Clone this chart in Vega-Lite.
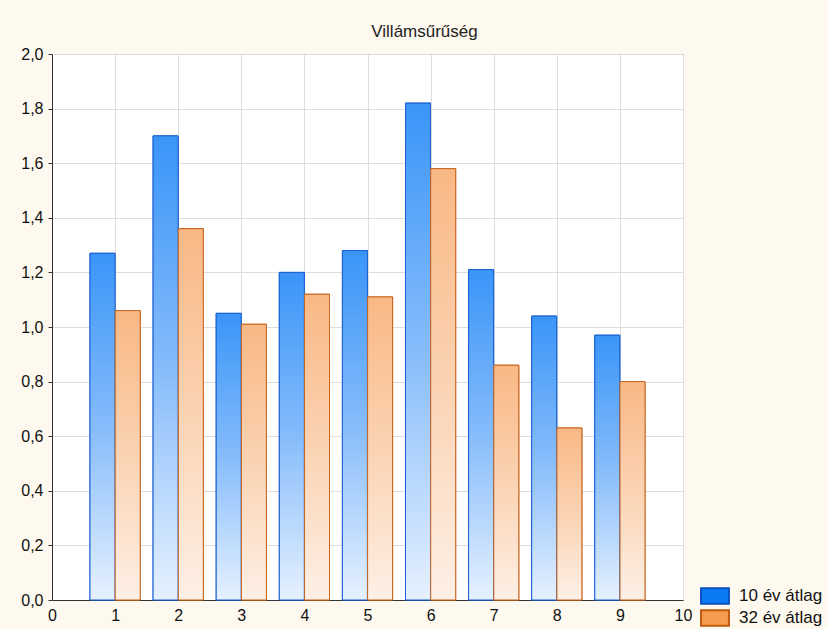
{
  "$schema": "https://vega.github.io/schema/vega-lite/v6.json",
  "width": 631,
  "height": 546,
  "autosize": {"type": "none"},
  "padding": {"left": 52, "top": 54, "right": 145, "bottom": 29},
  "background": "#FEF9EF",
  "view": {"fill": "white", "stroke": "#333333", "strokeWidth": 1},
  "title": {"text": "Villámsűrűség", "font": "Liberation Sans", "fontSize": 17, "fontWeight": "normal", "color": "#222222", "anchor": "middle", "dx": 57, "offset": 5},
  "config": {
    "font": "Liberation Sans",
    "legend": {
      "orient": "none",
      "legendX": 654,
      "legendY": 533,
      "padding": 0,
      "symbolType": "M-1.8,-1H1.8V1H-1.8Z",
      "symbolSize": 240,
      "symbolStrokeWidth": 2,
      "labelFontSize": 17,
      "labelFont": "Liberation Sans",
      "labelColor": "#111111",
      "labelOffset": 15,
      "rowPadding": -2
    }
  },
  "data": {
    "values": [
      {"n": 1, "series": "10 év átlag", "v": 1.27},
      {"n": 2, "series": "10 év átlag", "v": 1.70},
      {"n": 3, "series": "10 év átlag", "v": 1.05},
      {"n": 4, "series": "10 év átlag", "v": 1.20},
      {"n": 5, "series": "10 év átlag", "v": 1.28},
      {"n": 6, "series": "10 év átlag", "v": 1.82},
      {"n": 7, "series": "10 év átlag", "v": 1.21},
      {"n": 8, "series": "10 év átlag", "v": 1.04},
      {"n": 9, "series": "10 év átlag", "v": 0.97},
      {"n": 1, "series": "32 év átlag", "v": 1.06},
      {"n": 2, "series": "32 év átlag", "v": 1.36},
      {"n": 3, "series": "32 év átlag", "v": 1.01},
      {"n": 4, "series": "32 év átlag", "v": 1.12},
      {"n": 5, "series": "32 év átlag", "v": 1.11},
      {"n": 6, "series": "32 év átlag", "v": 1.58},
      {"n": 7, "series": "32 év átlag", "v": 0.86},
      {"n": 8, "series": "32 év átlag", "v": 0.63},
      {"n": 9, "series": "32 év átlag", "v": 0.80}
    ]
  },
  "encoding": {
    "x": {
      "field": "n",
      "type": "quantitative",
      "scale": {"domain": [0, 10], "nice": false, "zero": false, "padding": 0},
      "axis": {
        "title": null,
        "values": [0, 1, 2, 3, 4, 5, 6, 7, 8, 9, 10],
        "grid": true,
        "gridColor": "#DDDDDD",
        "ticks": false,
        "labelPadding": 7,
        "labelFontSize": 16,
        "labelColor": "#111111",
        "labelFlush": false,
        "domainColor": "#333333"
      }
    },
    "y": {
      "field": "v",
      "type": "quantitative",
      "scale": {"domain": [0, 2], "nice": false},
      "axis": {
        "title": null,
        "values": [0, 0.2, 0.4, 0.6, 0.8, 1.0, 1.2, 1.4, 1.6, 1.8, 2.0],
        "labelExpr": "replace(format(datum.value, '.1f'), '.', ',')",
        "grid": true,
        "gridColor": "#DDDDDD",
        "tickSize": 4,
        "tickColor": "#333333",
        "labelPadding": 5,
        "labelFontSize": 16,
        "labelColor": "#111111",
        "labelFlush": false,
        "domainColor": "#333333"
      }
    }
  },
  "layer": [
    {
      "transform": [{"filter": "datum.series === '10 év átlag'"}],
      "mark": {"type": "bar", "width": 25, "xOffset": -12.6, "strokeWidth": 1},
      "encoding": {
        "fill": {"field": "series", "type": "nominal", "scale": {"domain": ["10 év átlag", "32 év átlag"], "range": ["#0B7BF2", "#F59C4F"]}, "legend": {"title": null}},
        "stroke": {"field": "series", "type": "nominal", "scale": {"domain": ["10 év átlag", "32 év átlag"], "range": ["#0A4FC0", "#C0580F"]}, "legend": {"title": null}}
      }
    },
    {
      "transform": [{"filter": "datum.series === '32 év átlag'"}],
      "mark": {"type": "bar", "width": 25, "xOffset": 12.6, "strokeWidth": 1},
      "encoding": {
        "fill": {"field": "series", "type": "nominal", "scale": {"domain": ["10 év átlag", "32 év átlag"], "range": ["#0B7BF2", "#F59C4F"]}, "legend": {"title": null}},
        "stroke": {"field": "series", "type": "nominal", "scale": {"domain": ["10 év átlag", "32 év átlag"], "range": ["#0A4FC0", "#C0580F"]}, "legend": {"title": null}}
      }
    },
    {
      "transform": [{"filter": "datum.series === '10 év átlag'"}],
      "mark": {
        "type": "bar", "width": 25, "xOffset": -12.6, "stroke": "#1C62D4", "strokeWidth": 1,
        "fill": {"gradient": "linear", "x1": 0, "y1": 0, "x2": 0, "y2": 1,
          "stops": [{"offset": 0, "color": "#3A95F8"}, {"offset": 0.5, "color": "#86BCFB"}, {"offset": 1, "color": "#E6F1FE"}]}
      }
    },
    {
      "transform": [{"filter": "datum.series === '32 év átlag'"}],
      "mark": {
        "type": "bar", "width": 25, "xOffset": 12.6, "stroke": "#C8661E", "strokeWidth": 1,
        "fill": {"gradient": "linear", "x1": 0, "y1": 0, "x2": 0, "y2": 1,
          "stops": [{"offset": 0, "color": "#F9B885"}, {"offset": 0.5, "color": "#FBD3B3"}, {"offset": 1, "color": "#FDF0E6"}]}
      }
    }
  ]
}
